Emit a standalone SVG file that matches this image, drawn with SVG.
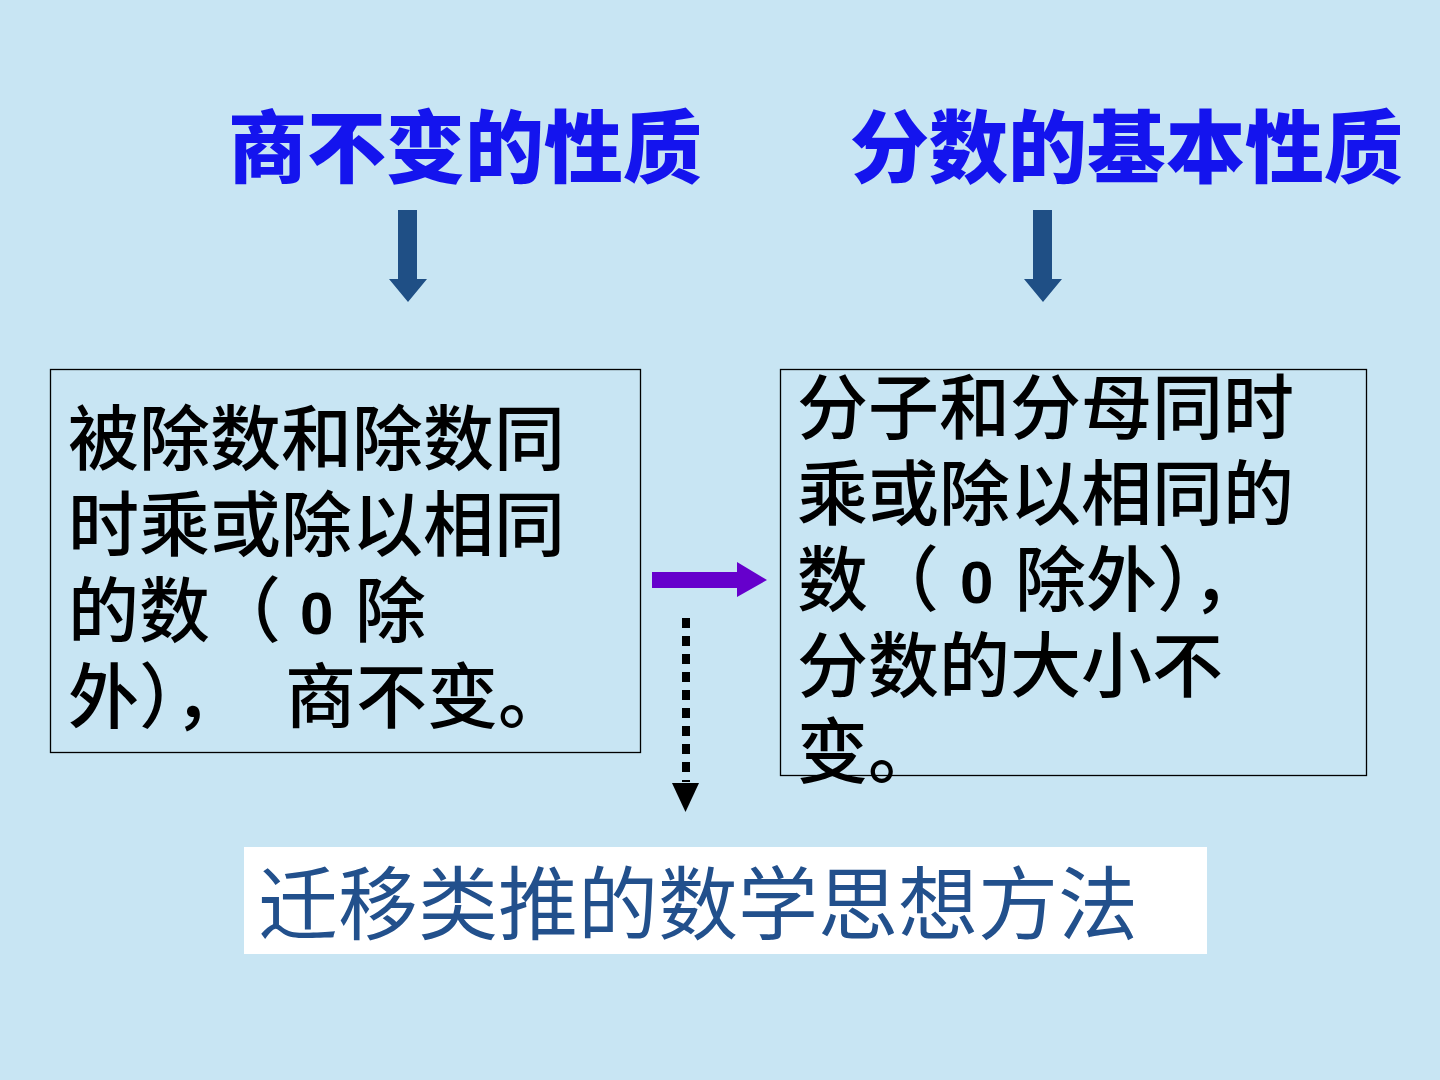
<svg xmlns="http://www.w3.org/2000/svg" width="1440" height="1080" viewBox="0 0 1440 1080">
<style>
.title{font-family:"Noto Sans CJK SC","Noto Sans",sans-serif;font-weight:900;font-size:79px;fill:#1414ee}
.body{font-family:"Noto Sans CJK SC","Noto Sans",sans-serif;font-size:71px;font-weight:500;fill:#000}
.zero{font-family:"Liberation Sans",Arial,sans-serif;font-weight:bold;font-size:60px}
.box{fill:none;stroke:#000;stroke-width:1.3}
.down{fill:#1f4f85}
.method{font-family:"Noto Sans CJK SC","Noto Sans",sans-serif;font-size:80px;fill:#22508c}
</style>
<rect x="0" y="0" width="1440" height="1080" fill="#c8e5f3"/>

<g id="title-left"><text class="title" x="228" y="177">商不变的性质</text></g>
<g id="title-right"><text class="title" x="850" y="177">分数的基本性质</text></g>

<g id="box-left">
<rect class="box" x="50.5" y="369.5" width="590" height="383"/>
<text class="body"><tspan x="68" y="464">被除数和除数同</tspan><tspan x="68" y="550">时乘或除以相同</tspan><tspan x="68" y="636">的数（</tspan><tspan class="zero" x="300" y="634">0</tspan><tspan x="355" y="636">除</tspan><tspan x="68" y="722">外），</tspan><tspan x="285" y="722">商不变。</tspan></text>
</g>

<g id="box-right">
<rect class="box" x="780.5" y="369.5" width="586" height="406"/>
<text class="body"><tspan x="797" y="433">分子和分母同时</tspan><tspan x="797" y="519">乘或除以相同的</tspan><tspan x="797" y="605">数（</tspan><tspan class="zero" x="960" y="603">0</tspan><tspan x="1015" y="605">除外），</tspan><tspan x="797" y="691">分数的大小不</tspan><tspan x="797" y="777">变。</tspan></text>
</g>

<g id="method">
<rect x="244" y="847" width="963" height="107" fill="#ffffff"/>
<text class="method" x="258" y="933">迁移类推的数学思想方法</text>
</g>

<g id="connectors">
<polygon class="down" points="398,210 417,210 417,279 427,279 408,302 389,279 398,279"/>
<polygon class="down" points="1033,210 1052,210 1052,279 1062,279 1043,302 1024,279 1033,279"/>
<polygon fill="#6600cc" points="652,572 737,572 737,562 767,580 737,597 737,588 652,588"/>
<line x1="686" y1="618" x2="686" y2="782" stroke="#000" stroke-width="8" stroke-dasharray="10 8"/>
<polygon fill="#000" points="672,783 699,783 685.5,812"/>
</g>
</svg>
